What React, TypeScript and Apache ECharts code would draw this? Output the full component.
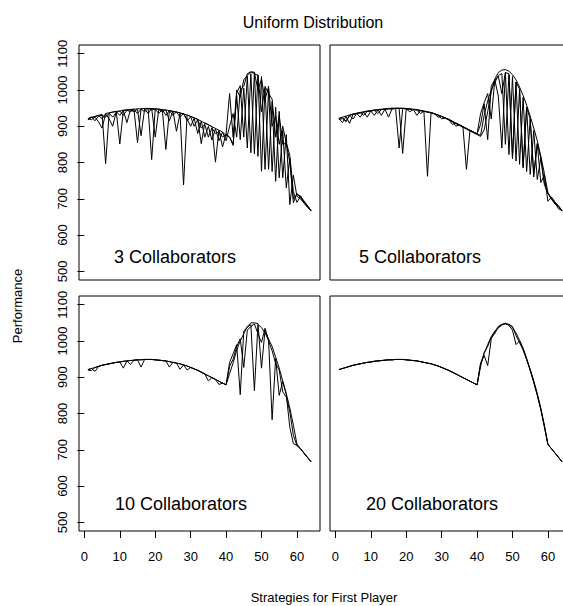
import React, { useEffect, useRef } from "react";
import * as echarts from "echarts";

const STRATEGIES = [
  1, 2, 3, 4, 5, 6, 7, 8, 9, 10, 11, 12, 13, 14, 15, 16, 17, 18, 19, 20, 21, 22, 23, 24, 25, 26, 27, 28, 29, 30, 31, 32,
  33, 34, 35, 36, 37, 38, 39, 40, 41, 42, 43, 44, 45, 46, 47, 48, 49, 50, 51, 52, 53, 54, 55, 56, 57, 58, 59, 60, 61, 62, 63, 64,
];
const X_TICKS = [0, 10, 20, 30, 40, 50, 60];
const Y_TICKS = [500, 600, 700, 800, 900, 1000, 1100];
const PANEL_LABELS = ["3 Collaborators", "5 Collaborators", "10 Collaborators", "20 Collaborators"];
const TITLE = "Uniform Distribution";
const Y_TITLE = "Performance";
const X_TITLE = "Strategies for First Player";

// 3 collaborators
const P1_RUN1 = [
  918, 924, 927, 930, 933, 797, 937, 939, 941, 851,
  944, 945, 946, 947, 854, 948, 949, 949, 808, 948,
  947, 946, 836, 943, 941, 939, 937, 738, 931, 927,
  923, 919, 852, 909, 904, 899, 801, 889, 843, 879,
  870, 847, 992, 1012, 870, 1038, 827, 1048, 817, 1037,
  781, 1002, 775, 952, 758, 888, 730, 812, 689, 715,
  703, 691, 679, 667,
];
const P1_RUN2 = [
  921, 918, 925, 912, 895, 934, 920, 900, 940, 930,
  943, 910, 945, 940, 947, 874, 948, 935, 949, 870,
  946, 940, 945, 915, 942, 886, 935, 934, 920, 900,
  922, 880, 914, 870, 900, 862, 893, 860, 884, 875,
  870, 851, 985, 863, 1005, 840, 1045, 824, 1042, 776,
  1005, 781, 968, 748, 941, 758, 877, 684, 765, 707,
  700, 688, 676, 666,
];
const P1_RUN3 = [
  920, 926, 915, 928, 930, 925, 936, 925, 938, 942,
  930, 944, 940, 946, 935, 947, 940, 949, 945, 947,
  935, 946, 930, 943, 930, 940, 925, 935, 915, 926,
  900, 918, 895, 905, 870, 895, 880, 885, 870, 878,
  990, 870, 1000, 980, 1028, 1040, 1050, 1045, 1040, 940,
  1010, 990, 975, 870, 930, 850, 854, 800, 700, 712,
  708, 694, 681, 668,
];
const P1_RUN4 = [
  921, 924, 927, 930, 920, 935, 937, 939, 941, 942,
  944, 945, 946, 947, 948, 948, 949, 949, 949, 948,
  947, 946, 945, 943, 941, 939, 937, 934, 931, 927,
  923, 919, 914, 909, 904, 899, 894, 889, 884, 860,
  900, 935, 870, 1000, 1010, 1045, 1050, 1049, 1000, 1030,
  973, 1010, 900, 927, 850, 900, 854, 820, 720, 690,
  706, 690, 680, 668,
];

// 5 collaborators
const P2_RUN1 = [
  921, 910, 927, 908, 933, 935, 925, 939, 941, 942,
  930, 945, 946, 947, 925, 948, 949, 840, 949, 948,
  947, 946, 930, 943, 941, 762, 937, 934, 931, 920,
  923, 919, 914, 909, 904, 899, 781, 889, 884, 879,
  905, 962, 863, 1010, 1028, 983, 840, 1048, 822, 1037,
  804, 1002, 785, 952, 767, 888, 753, 812, 739, 715,
  700, 685, 678, 666,
];
const P2_RUN2 = [
  918, 921, 915, 930, 920, 935, 937, 930, 941, 942,
  944, 935, 946, 947, 948, 948, 949, 949, 825, 948,
  947, 946, 945, 935, 941, 939, 937, 934, 931, 927,
  923, 919, 905, 909, 904, 899, 894, 889, 884, 879,
  875, 930, 970, 1000, 1020, 1040, 1045, 850, 1042, 815,
  1022, 795, 980, 775, 920, 760, 852, 745, 765, 693,
  705, 690, 672, 668,
];
const P2_RUN3 = [
  922, 925, 928, 931, 934, 936, 938, 940, 942, 943,
  945, 946, 947, 948, 949, 950, 950, 950, 950, 949,
  948, 947, 946, 944, 942, 940, 938, 935, 931, 927,
  922, 917, 912, 907, 902, 897, 892, 887, 882, 877,
  872, 890, 940, 995, 1030, 1048, 1055, 1056, 1052, 1042,
  1028, 1008, 985, 958, 928, 895, 860, 818, 770, 717,
  698, 688, 681, 667,
];
const P2_RUN4 = [
  921, 924, 912, 930, 933, 935, 937, 939, 925, 942,
  944, 945, 930, 947, 948, 948, 949, 949, 949, 948,
  940, 946, 945, 943, 941, 939, 937, 934, 925, 927,
  923, 919, 914, 900, 904, 899, 894, 889, 884, 879,
  935, 965, 990, 920, 1027, 1038, 990, 1048, 1045, 810,
  1022, 1002, 790, 952, 920, 770, 852, 812, 745, 715,
  703, 691, 679, 667,
];

// 10 collaborators
const P3_RUN1 = [
  921, 924, 916, 930, 933, 935, 937, 939, 941, 942,
  925, 945, 946, 947, 948, 928, 949, 949, 949, 948,
  947, 946, 945, 928, 941, 939, 922, 934, 931, 927,
  923, 919, 914, 909, 890, 899, 894, 889, 884, 879,
  941, 965, 990, 852, 1027, 1038, 1045, 863, 1045, 1037,
  1022, 1002, 783, 952, 850, 888, 852, 762, 717, 712,
  703, 691, 679, 667,
];
const P3_RUN2 = [
  920, 918, 927, 930, 933, 935, 937, 939, 941, 942,
  944, 945, 935, 947, 948, 948, 949, 949, 949, 948,
  947, 946, 945, 943, 941, 939, 937, 934, 920, 927,
  923, 919, 914, 909, 904, 899, 894, 889, 884, 879,
  930, 950, 985, 1006, 927, 1030, 1040, 1047, 1020, 996,
  1035, 1000, 973, 938, 920, 860, 845, 805, 740, 712,
  703, 690, 678, 667,
];
const P3_RUN3 = [
  921, 924, 927, 930, 933, 935, 937, 939, 941, 942,
  944, 945, 946, 947, 948, 948, 949, 949, 949, 948,
  947, 946, 945, 943, 941, 939, 937, 934, 931, 927,
  923, 919, 914, 909, 904, 899, 894, 880, 884, 879,
  910, 940, 975, 1000, 1020, 1040, 1050, 1050, 1048, 925,
  1030, 1005, 985, 955, 925, 890, 855, 815, 768, 716,
  703, 691, 679, 667,
];

// 20 collaborators
const P4_RUN1 = [
  921, 924, 927, 930, 933, 935, 937, 939, 941, 942,
  944, 945, 946, 947, 948, 948, 949, 949, 949, 948,
  947, 946, 945, 943, 941, 939, 937, 934, 931, 927,
  923, 919, 914, 909, 904, 899, 894, 889, 884, 879,
  935, 965, 990, 1012, 1027, 1038, 1045, 1048, 1045, 1037,
  1022, 1002, 980, 952, 920, 888, 852, 812, 765, 715,
  703, 691, 679, 667,
];
const P4_RUN2 = [
  921, 924, 927, 930, 933, 935, 937, 939, 941, 942,
  944, 945, 946, 947, 948, 948, 949, 949, 949, 948,
  947, 946, 945, 943, 941, 939, 937, 934, 931, 927,
  923, 919, 914, 909, 904, 899, 894, 889, 884, 879,
  940, 960, 932, 1005, 1025, 1036, 1044, 1049, 1043, 1030,
  990, 1000, 978, 950, 918, 885, 850, 810, 763, 714,
  703, 691, 679, 667,
];
const P4_RUN3 = [
  921, 924, 927, 930, 933, 935, 937, 939, 941, 942,
  944, 945, 946, 947, 948, 948, 949, 949, 949, 948,
  947, 946, 945, 943, 941, 939, 937, 934, 931, 927,
  923, 919, 914, 909, 904, 899, 894, 889, 884, 879,
  930, 968, 985, 1010, 1020, 1040, 1046, 1047, 1046, 1040,
  1015, 995, 975, 948, 922, 890, 855, 815, 768, 716,
  703, 691, 679, 667,
];

const PANEL_RUNS = [
  [P1_RUN1, P1_RUN2, P1_RUN3, P1_RUN4],
  [P2_RUN1, P2_RUN2, P2_RUN3, P2_RUN4],
  [P3_RUN1, P3_RUN2, P3_RUN3],
  [P4_RUN1, P4_RUN2, P4_RUN3],
];

const FONT = "'Liberation Sans', Arial, Helvetica, sans-serif";
const GRID_POS = [
  [79, 45],
  [330, 45],
  [79, 296],
  [330, 296],
];
const GRID_W = 241;
const GRID_H = 235;
const LABEL_POS = [
  [114, 257],
  [359, 257],
  [115, 504],
  [366, 504],
];

export default function App() {
  const ref = useRef<HTMLDivElement>(null);

  useEffect(() => {
    if (!ref.current) return;
    const chart = echarts.init(ref.current, null, { renderer: "svg" });

    const grid = GRID_POS.map(([l, t]) => ({
      left: l,
      top: t,
      width: GRID_W,
      height: GRID_H,
      show: true,
      borderColor: "#000",
      borderWidth: 1,
      backgroundColor: "transparent",
      containLabel: false,
      outerBoundsMode: "none",
    }));

    const xAxis = GRID_POS.map((_, i) => {
      const bottom = i >= 2;
      return {
        type: "value",
        gridIndex: i,
        min: -1.52,
        max: 66.52,
        axisLine: { show: false },
        splitLine: { show: false },
        axisTick: {
          show: bottom,
          customValues: X_TICKS,
          length: 7,
          lineStyle: { color: "#000", width: 1 },
        },
        axisLabel: {
          show: bottom,
          customValues: X_TICKS,
          margin: 19,
          fontSize: 13,
          color: "#000",
          fontFamily: FONT,
          formatter: (v: number) => String(v),
        },
      };
    });

    const yAxis = GRID_POS.map((_, i) => {
      const left = i % 2 === 0;
      return {
        type: "value",
        gridIndex: i,
        min: 476,
        max: 1124,
        axisLine: { show: false },
        splitLine: { show: false },
        axisTick: {
          show: left,
          customValues: Y_TICKS,
          length: 7,
          lineStyle: { color: "#000", width: 1 },
        },
        axisLabel: {
          show: left,
          customValues: Y_TICKS,
          rotate: 90,
          margin: 10,
          fontSize: 13,
          color: "#000",
          fontFamily: FONT,
          formatter: (v: number) => String(v),
        },
      };
    });

    const series: any[] = [];
    PANEL_RUNS.forEach((runs, p) => {
      runs.forEach((vals, r) => {
        series.push({
          type: "line",
          name: `panel${p}-run${r}`,
          xAxisIndex: p,
          yAxisIndex: p,
          symbol: "none",
          silent: true,
          lineStyle: { color: "#000", width: 1 },
          data: STRATEGIES.map((x, k) => [x, vals[k]]),
        });
      });
    });

    const graphic: any[] = [
      {
        type: "text",
        x: 313,
        y: 22,
        style: {
          text: TITLE,
          fill: "#000",
          fontSize: 16,
          fontFamily: FONT,
          textAlign: "center",
          textVerticalAlign: "middle",
        },
      },
      {
        type: "text",
        x: 17,
        y: 306,
        rotation: Math.PI / 2,
        style: {
          text: Y_TITLE,
          fill: "#000",
          fontSize: 13,
          fontFamily: FONT,
          textAlign: "center",
          textVerticalAlign: "middle",
        },
      },
      {
        type: "text",
        x: 324,
        y: 597,
        style: {
          text: X_TITLE,
          fill: "#000",
          fontSize: 13,
          fontFamily: FONT,
          textAlign: "center",
          textVerticalAlign: "middle",
        },
      },
      ...PANEL_LABELS.map((t, i) => ({
        type: "text",
        x: LABEL_POS[i][0],
        y: LABEL_POS[i][1],
        style: {
          text: t,
          fill: "#000",
          fontSize: 18,
          fontFamily: FONT,
          textAlign: "left",
          textVerticalAlign: "middle",
        },
      })),
    ];

    chart.setOption({
      animation: false,
      backgroundColor: "#fff",
      grid,
      xAxis,
      yAxis,
      series,
      graphic,
    });

    return () => chart.dispose();
  }, []);

  return (
    <div
      ref={ref}
      style={{ position: "fixed", left: 0, top: 0, width: 563, height: 606 }}
    />
  );
}
